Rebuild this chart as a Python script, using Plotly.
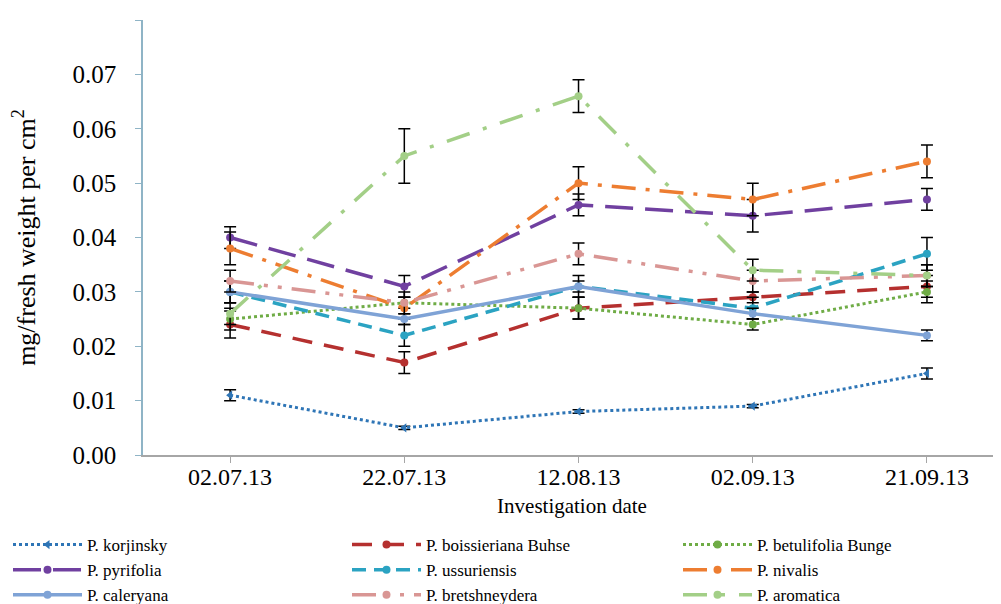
import plotly.graph_objects as go

dates = ["02.07.13", "22.07.13", "12.08.13", "02.09.13", "21.09.13"]

korjinsky = [0.011, 0.005, 0.008, 0.009, 0.015]
korjinsky_err = [0.001, 0.0003, 0.0003, 0.0003, 0.001]
boissieriana = [0.024, 0.017, 0.027, 0.029, 0.031]
boissieriana_err = [0.0025, 0.002, 0.002, 0.001, 0.002]
betulifolia = [0.025, 0.028, 0.027, 0.024, 0.030]
betulifolia_err = [0.002, 0.001, 0.002, 0.001, 0.002]
pyrifolia = [0.040, 0.031, 0.046, 0.044, 0.047]
pyrifolia_err = [0.002, 0.002, 0.002, 0.003, 0.002]
ussuriensis = [0.030, 0.022, 0.031, 0.027, 0.037]
ussuriensis_err = [0.002, 0.002, 0.002, 0.002, 0.003]
nivalis = [0.038, 0.027, 0.050, 0.047, 0.054]
nivalis_err = [0.003, 0.002, 0.003, 0.003, 0.003]
caleryana = [0.030, 0.025, 0.031, 0.026, 0.022]
caleryana_err = [0.002, 0.001, 0.001, 0.001, 0.001]
bretshneydera = [0.032, 0.028, 0.037, 0.032, 0.033]
bretshneydera_err = [0.002, 0.002, 0.002, 0.002, 0.002]
aromatica = [0.026, 0.055, 0.066, 0.034, 0.033]
aromatica_err = [0.002, 0.005, 0.003, 0.002, 0.002]

y_ticks = [0.00, 0.01, 0.02, 0.03, 0.04, 0.05, 0.06, 0.07, 0.08]
y_tick_labels = ["0.00", "0.01", "0.02", "0.03", "0.04", "0.05", "0.06", "0.07", "0.08"]

# name, values, errors, colour, dash, marker, width, legend column
series = [
    ("P. korjinsky", korjinsky, korjinsky_err, "#2E75B6", "dot", "triangle-left", 3, "legend"),
    ("P. boissieriana Buhse", boissieriana, boissieriana_err, "#B5302F", "20px,12px", "circle", 3.5, "legend2"),
    ("P. betulifolia Bunge", betulifolia, betulifolia_err, "#6FAC46", "dot", "circle", 3, "legend3"),
    ("P. pyrifolia", pyrifolia, pyrifolia_err, "#7040A0", "28px,12px", "circle", 3.5, "legend"),
    ("P. ussuriensis", ussuriensis, ussuriensis_err, "#2BA3C2", "14px,8px", "circle", 3.5, "legend2"),
    ("P. nivalis", nivalis, nivalis_err, "#ED7D31", "24px,10px,4px,10px", "circle", 3.5, "legend3"),
    ("P. caleryana", caleryana, caleryana_err, "#7FA3D6", "solid", "circle", 3.5, "legend"),
    ("P. bretshneydera", bretshneydera, bretshneydera_err, "#D99694", "24px,10px,4px,10px,4px,10px", "circle", 3.5, "legend2"),
    ("P. aromatica", aromatica, aromatica_err, "#A3CF87", "24px,14px,4px,14px", "circle", 3.5, "legend3"),
]

fig = go.Figure()
for name, vals, errs, color, dash, sym, w, leg in series:
    fig.add_trace(go.Scatter(
        x=dates, y=vals, name=name, mode="lines+markers", legend=leg,
        line=dict(color=color, dash=dash, width=w),
        marker=dict(color=color, size=8, symbol=sym),
        error_y=dict(type="data", array=errs, visible=True, color="black", thickness=1.5, width=6),
    ))

font_family = "Times New Roman, Liberation Serif, serif"
W, H = 993, 596  # page body has an 8px margin
ML, MR, MT, MB = 135, 0, 12, 149
PW = W - ML - MR


def legend_box(px_left):
    return dict(
        orientation="v", xref="paper", yref="container",
        x=(px_left - ML) / PW, y=1 - 519 / H, xanchor="left", yanchor="top",
        itemwidth=69, font=dict(family=font_family, size=17),
        bgcolor="rgba(0,0,0,0)", tracegroupgap=0,
    )


fig.update_layout(
    width=W, height=H,
    margin=dict(l=ML, r=MR, t=MT, b=MB),
    plot_bgcolor="white", paper_bgcolor="white",
    font=dict(family=font_family, color="black"),
    showlegend=True,
    legend=legend_box(0),
    legend2=legend_box(339),
    legend3=legend_box(670),
    xaxis=dict(
        type="category", range=[-0.5, 4.425], automargin=False,
        showline=True, linecolor="#A6A6A6", linewidth=1.5,
        ticks="outside", ticklen=6, tickcolor="#A6A6A6",
        tickfont=dict(family=font_family, size=24), showgrid=False, zeroline=False,
        ticklabelstandoff=-7,
        title=dict(text="Investigation date", font=dict(size=21), standoff=10),
    ),
    yaxis=dict(
        range=[0, 0.08], tickmode="array", tickvals=y_ticks, ticktext=y_tick_labels,
        automargin=False,
        showline=True, linecolor="#8FB4C6", linewidth=1.5,
        ticks="outside", ticklen=6, tickcolor="#8FB4C6",
        tickfont=dict(family=font_family, size=25), showgrid=False, zeroline=False,
        ticklabelstandoff=14,
        title=dict(text="mg/fresh weight per cm<sup>2</sup>", font=dict(size=26), standoff=34),
    ),
)

fig.write_html("out.html")
